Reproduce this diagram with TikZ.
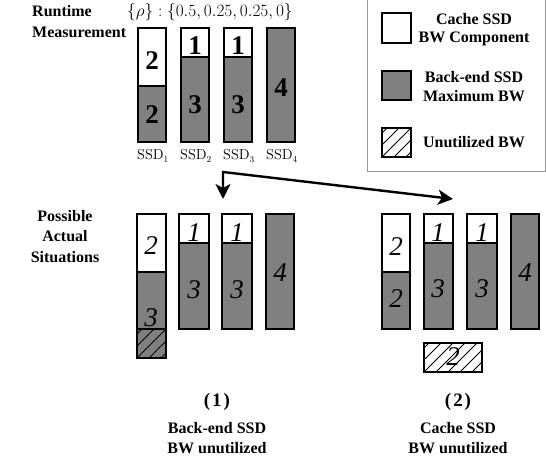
\documentclass[tikz,border=0pt]{standalone}
\usepackage[no-math]{fontspec}
\newfontfamily\tnr{Liberation Serif}
\usetikzlibrary{arrows.meta}
\definecolor{barg}{RGB}{128,128,128}
\definecolor{lgd}{RGB}{150,150,150}
\newcommand\hatchbox[5]{%
  \begin{scope}
    \clip (#1,#2) rectangle (#3,#4);
    \foreach \k in {-60,-48,...,80} \draw[line width=0.8pt] ({#1+\k},#4) -- ++(40,-40);
  \end{scope}}
\begin{document}
\begin{tikzpicture}[x=1pt,y=-1pt,
  bar/.style={draw=black, line width=1.2pt},
  cachebar/.style={bar, fill=white},
  bebar/.style={bar, fill=barg},
  lbl/.style={font=\tnr\bfseries\fontsize{16}{18}\selectfont, inner sep=0pt, anchor=base},
  bnum/.style={font=\tnr\bfseries\fontsize{27}{29}\selectfont, inner sep=0pt},
  inum/.style={font=\tnr\itshape\fontsize{27}{29}\selectfont, inner sep=0pt},
  ssd/.style={font=\fontsize{13.5}{15}\selectfont, inner sep=0pt, anchor=base},
  caselbl/.style={font=\tnr\bfseries\fontsize{19}{21}\selectfont, inner sep=0pt, anchor=base},
  arr/.style={line width=2.4pt, {Stealth[length=15pt,width=15pt,inset=4pt]}-{Stealth[length=15pt,width=15pt,inset=4pt]}}
]
\useasboundingbox (0,0) rectangle (546,462);
\fill[white] (0,0) rectangle (546,462);

% left titles
\node[lbl, anchor=base west] (rt1) at (32,17) {Runtime};
\node[lbl, anchor=base west] (rt2) at (32,38) {Measurement};
\node[lbl] (pa1) at (65,222) {Possible};
\node[lbl] (pa2) at (65,242) {Actual};
\node[lbl] (pa3) at (65,263) {Situations};

% formula
\node[font=\fontsize{17}{19}\selectfont, inner sep=0pt, anchor=base west] (rho) at (127,17) {$\{\rho\}:\{0.5,0.25,0.25,0\}$};

% top bars
\path[cachebar] (138,28) rectangle (166,86);
\path[bebar] (138,86) rectangle (166,142);
\path[cachebar] (181,28) rectangle (209,57);
\path[bebar] (181,57) rectangle (209,142);
\path[cachebar] (224,28) rectangle (252,57);
\path[bebar] (224,57) rectangle (252,142);
\path[bebar] (267,28) rectangle (295,142);
\node[bnum] (t1a) at (152,61) {2};
\node[bnum] (t1b) at (152,115) {2};
\node[bnum] (t2a) at (195,46) {1};
\node[bnum] (t2b) at (195,105) {3};
\node[bnum] (t3a) at (238,46) {1};
\node[bnum] (t3b) at (238,105) {3};
\node[bnum] (t4) at (281,88) {4};
\node[ssd] (s1) at (153,160) {$\mathrm{SSD}_1$};
\node[ssd] (s2) at (196,160) {$\mathrm{SSD}_2$};
\node[ssd] (s3) at (239,160) {$\mathrm{SSD}_3$};
\node[ssd] (s4) at (282,160) {$\mathrm{SSD}_4$};

% arrow
\coordinate (bend) at (223,172);
\coordinate (tipA) at (223,199);
\coordinate (tipB) at (453,199);
\draw[arr] (tipA) -- (bend) -- (tipB);

% legend
\draw[lgd, line width=1pt] (367,-2) rectangle (545,172);
\path[cachebar] (382,13) rectangle (411,43);
\path[bebar] (382,71) rectangle (411,100);
\hatchbox{382}{128}{411}{157}{12}
\draw[bar] (382,128) rectangle (411,157);
\node[lbl] (lg1) at (474,25) {Cache SSD};
\node[lbl] (lg2) at (474,43) {BW Component};
\node[lbl] (lg3) at (474,83) {Back-end SSD};
\node[lbl] (lg4) at (474,102) {Maximum BW};
\node[lbl] (lg5) at (474,148) {Unutilized BW};

% situation (1)
\path[cachebar] (137,214) rectangle (166,272);
\path[bebar] (137,272) rectangle (166,329);
\fill[barg] (137,329) rectangle (166,358);
\hatchbox{137}{329}{166}{358}{12}
\draw[bar] (137,329) rectangle (166,358);
\path[cachebar] (179,214) rectangle (209,243);
\path[bebar] (179,243) rectangle (209,329);
\path[cachebar] (222,214) rectangle (252,243);
\path[bebar] (222,243) rectangle (252,329);
\path[bebar] (266,214) rectangle (294,329);
\node[inum] (a1a) at (151,246) {2};
\node[inum] (a1b) at (151,318) {3};
\node[inum] (a2a) at (194,233) {1};
\node[inum] (a2b) at (194,290) {3};
\node[inum] (a3a) at (237,233) {1};
\node[inum] (a3b) at (237,290) {3};
\node[inum] (a4) at (280,273) {4};
\node[caselbl] (n1) at (217,406) {(\hspace{2pt}1\hspace{2pt})};
\node[lbl] (c1a) at (217,433) {Back-end SSD};
\node[lbl] (c1b) at (217,453) {BW unutilized};

% situation (2)
\path[cachebar] (382,214) rectangle (410,272);
\path[bebar] (382,272) rectangle (410,329);
\path[cachebar] (424,214) rectangle (453,243);
\path[bebar] (424,243) rectangle (453,329);
\path[cachebar] (467,214) rectangle (497,243);
\path[bebar] (467,243) rectangle (497,329);
\path[bebar] (511,214) rectangle (539,329);
\fill[white] (424,343) rectangle (482,372);
\hatchbox{424}{343}{482}{372}{12}
\draw[bar] (424,343) rectangle (482,372);
\node[inum] (b1a) at (396,247) {2};
\node[inum] (b1b) at (396,299) {2};
\node[inum] (b2a) at (438,233) {1};
\node[inum] (b2b) at (438,289) {3};
\node[inum] (b3a) at (482,233) {1};
\node[inum] (b3b) at (482,289) {3};
\node[inum] (b4) at (525,273) {4};
\node[inum] (bh) at (453,357) {2};
\node[caselbl] (n2) at (458,406) {(\hspace{2pt}2\hspace{2pt})};
\node[lbl] (c2a) at (458,433) {Cache SSD};
\node[lbl] (c2b) at (458,453) {BW unutilized};
\end{tikzpicture}
\end{document}
